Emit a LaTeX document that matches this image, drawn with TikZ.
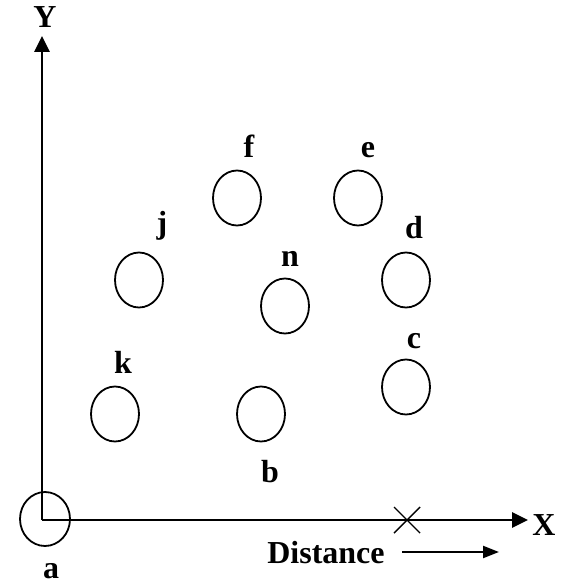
\documentclass[tikz,border=0pt]{standalone}
\usepackage{fontspec}
\setmainfont{Liberation Serif}
\usetikzlibrary{arrows.meta,shapes.geometric}
\begin{document}
\begin{tikzpicture}[x=0.5pt,y=-0.5pt,
  dot/.style={draw,ellipse,line width=0.9pt,minimum width=24pt,minimum height=27.5pt,inner sep=0pt},
  lbl/.style={font=\fontsize{16}{19}\selectfont\bfseries,inner sep=0pt,anchor=base},
  axis/.style={line width=1.4pt,-{Triangle[length=8pt,width=7.5pt]}},
  ]
\useasboundingbox (0,0) rectangle (561,583);
% origin and axes
\coordinate (o) at (42,520);
\coordinate (ytip) at (42,36);
\coordinate (xtip) at (528,520);
\draw[axis] (o) -- (ytip);
\draw[axis] (o) -- (xtip);
\node[lbl] (ylab) at (45,28) {Y};
\node[lbl] (xlab) at (544,535) {X};
% point a
\node[dot,minimum width=25pt,minimum height=27pt] (a) at (45,519) {};
\node[lbl] (alab) at (51,578) {a};
% cross
\coordinate (x1) at (394,507);
\coordinate (x2) at (420,533);
\coordinate (x3) at (394,533);
\coordinate (x4) at (420,507);
\draw[line width=0.7pt] (x1) -- (x2);
\draw[line width=0.7pt] (x3) -- (x4);
% distance
\node[lbl] (dist) at (326,563) {Distance};
\coordinate (ds) at (402,552);
\coordinate (de) at (499,552);
\draw[line width=1.1pt,-{Triangle[length=8pt,width=6pt]}] (ds) -- (de);
% points
\node[dot] (f) at (237,198) {};
\node[lbl] (flab) at (249,157) {f};
\node[dot] (e) at (358,198) {};
\node[lbl] (elab) at (368,157) {e};
\node[dot] (j) at (139,280) {};
\node[lbl] (jlab) at (162,233) {j};
\node[dot] (n) at (285,306) {};
\node[lbl] (nlab) at (290,266) {n};
\node[dot] (d) at (406,280) {};
\node[lbl] (dlab) at (414,238) {d};
\node[dot] (c) at (406,387) {};
\node[lbl] (clab) at (414,348) {c};
\node[dot] (k) at (115,414) {};
\node[lbl] (klab) at (123,373) {k};
\node[dot] (b) at (261,414) {};
\node[lbl] (blab) at (270,482) {b};
\end{tikzpicture}
\end{document}
